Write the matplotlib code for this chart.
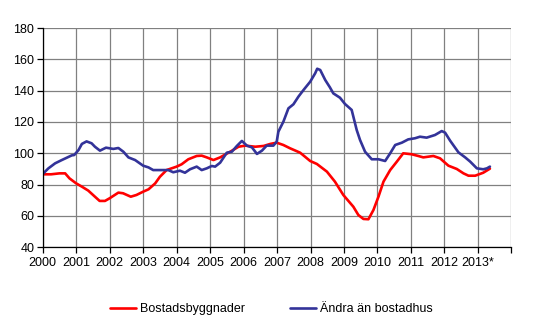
import matplotlib
matplotlib.use("Agg")
import matplotlib.pyplot as plt

plt.rcParams['font.family'] = ['Liberation Sans', 'DejaVu Sans']

# Decimal-year positions and index values
bost_x = [2000.0, 2000.25, 2000.5, 2000.67, 2000.8, 2001.0, 2001.17, 2001.36, 2001.56, 2001.7,
          2001.86, 2002.0, 2002.26, 2002.4, 2002.63, 2002.8, 2003.0, 2003.16, 2003.36, 2003.5,
          2003.7, 2004.0, 2004.15, 2004.35, 2004.6, 2004.75, 2004.9, 2005.1, 2005.3, 2005.6,
          2005.85, 2006.05, 2006.35, 2006.6, 2006.8, 2006.99, 2007.19, 2007.39, 2007.69, 2007.99,
          2008.19, 2008.49, 2008.73, 2008.98, 2009.28, 2009.43, 2009.58, 2009.73, 2009.88, 2010.03,
          2010.18, 2010.38, 2010.58, 2010.77, 2011.02, 2011.22, 2011.37, 2011.67, 2011.87, 2012.12,
          2012.37, 2012.57, 2012.72, 2012.92, 2013.16, 2013.36]
bost_y = [86.6, 86.6, 87.2, 87.2, 84.0, 80.8, 78.7, 76.2, 72.3, 69.6,
          69.6, 71.3, 74.9, 74.5, 72.3, 73.4, 75.5, 77.0, 80.8, 85.0,
          89.3, 91.5, 93.0, 96.2, 98.3, 98.5, 97.4, 95.7, 97.4, 101.0,
          104.2, 104.9, 104.2, 104.7, 106.0, 106.8, 105.3, 103.2, 100.4, 95.1,
          93.2, 88.3, 81.9, 73.4, 65.9, 60.6, 58.1, 57.9, 63.8, 72.3,
          81.9, 89.3, 94.7, 100.0, 99.4, 98.3, 97.4, 98.3, 96.8, 92.1,
          90.0, 87.2, 85.7, 85.7, 87.6, 90.2]

andra_x = [2000.0, 2000.17, 2000.37, 2000.57, 2000.72, 2000.87, 2000.94, 2001.07, 2001.17, 2001.31,
           2001.46, 2001.56, 2001.71, 2001.89, 2002.11, 2002.26, 2002.41, 2002.56, 2002.76, 2003.0,
           2003.16, 2003.3, 2003.5, 2003.75, 2003.9, 2004.1, 2004.25, 2004.4, 2004.6, 2004.75,
           2004.9, 2005.05, 2005.15, 2005.3, 2005.5, 2005.65, 2005.8, 2005.95, 2006.1, 2006.25,
           2006.4, 2006.55, 2006.69, 2006.89, 2006.99, 2007.04, 2007.19, 2007.34, 2007.49, 2007.64,
           2007.79, 2007.99, 2008.14, 2008.2, 2008.29, 2008.44, 2008.58, 2008.68, 2008.88, 2009.03,
           2009.23, 2009.38, 2009.48, 2009.63, 2009.83, 2010.03, 2010.23, 2010.38, 2010.53, 2010.73,
           2010.92, 2011.12, 2011.27, 2011.47, 2011.72, 2011.92, 2012.02, 2012.17, 2012.42, 2012.62,
           2012.77, 2012.97, 2013.16, 2013.27, 2013.36]
andra_y = [86.8, 90.4, 93.6, 95.7, 97.2, 98.7, 98.9, 102.1, 106.0, 107.6,
           106.4, 104.2, 101.7, 103.6, 102.8, 103.4, 101.0, 97.4, 95.7, 92.1,
           91.0, 89.3, 89.3, 89.3, 87.9, 88.9, 87.6, 89.8, 91.5, 89.3,
           90.4, 91.9, 91.5, 94.0, 100.4, 101.0, 104.7, 107.9, 104.9, 103.8,
           99.6, 101.7, 104.9, 104.9, 107.4, 113.8, 120.2, 128.7, 131.3, 136.2,
           140.4, 145.7, 151.1, 154.0, 153.2, 146.8, 142.1, 138.3, 135.5, 131.5,
           127.7, 114.9, 108.5, 101.0, 96.2, 96.2, 95.1, 100.0, 105.3, 106.8,
           108.9, 109.6, 110.6, 110.0, 111.7, 114.2, 113.2, 108.1, 100.6, 97.4,
           94.7, 90.4, 89.8, 90.4, 91.5]

years = list(range(2000, 2015))
year_labels = ['2000', '2001', '2002', '2003', '2004', '2005', '2006', '2007',
               '2008', '2009', '2010', '2011', '2012', '2013*', '']
series_names = ['Bostadsbyggnader', 'Ändra än bostadhus']

fig = plt.figure(figsize=(5.36, 3.31), dpi=100)
ax = fig.add_axes([0.0797, 0.2529, 0.954 - 0.0797, 0.9154 - 0.2529])

ax.plot(bost_x, bost_y, color='#FF0000', lw=1.9, label=series_names[0], solid_capstyle='round')
ax.plot(andra_x, andra_y, color='#333399', lw=1.9, label=series_names[1], solid_capstyle='round')

ax.set_xlim(2000, 2014)
ax.set_ylim(40, 180)
ax.set_yticks(range(40, 181, 20))
ax.set_xticks(years)
ax.set_xticklabels(year_labels)
ax.grid(True, color='#808080', lw=0.9)
ax.set_axisbelow(True)
for s in ['top', 'right']:
    ax.spines[s].set_visible(False)
for s in ['left', 'bottom']:
    ax.spines[s].set_color('black')
    ax.spines[s].set_linewidth(0.9)
ax.tick_params(axis='both', labelsize=9, length=4, width=0.9, color='black')
ax.tick_params(axis='x', pad=3)
ax.tick_params(axis='y', pad=2)

fig.legend(loc='center', bbox_to_anchor=(271 / 536, 1 - 309.4 / 331), ncol=2,
           frameon=False, fontsize=9, handlelength=2.1, handletextpad=0.3,
           columnspacing=3.6)

fig.savefig('out.png', dpi=100)
